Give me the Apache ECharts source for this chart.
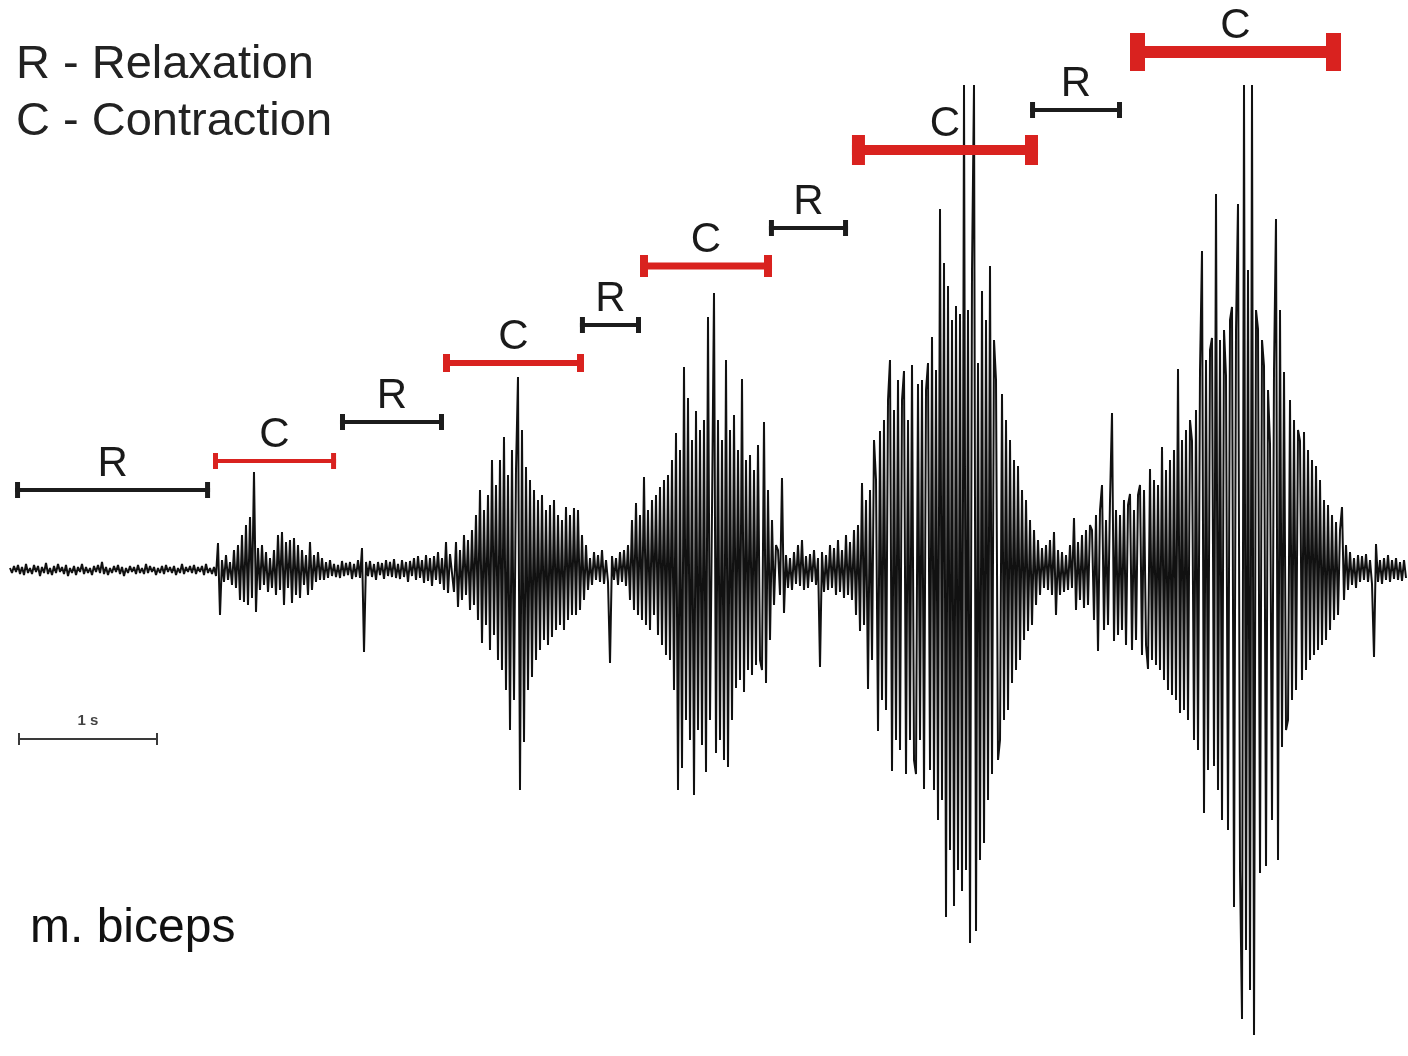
<!DOCTYPE html>
<html>
<head>
<meta charset="utf-8">
<script src="https://cdn.jsdelivr.net/npm/echarts@6.0.0/dist/echarts.min.js"></script>
<style>
html,body{margin:0;padding:0;background:#ffffff;}
#chart{width:1408px;height:1056px;}
</style>
</head>
<body>
<div id="chart"></div>
<script>
// ---------- DATA ----------
// EMG recording, m. biceps. Sample period (s) and start time (s) of each recorded segment
const samplePeriod = 1 / 70;
const segmentStart = [0, 1.4571, 2.3143, 3.1571, 4.1429, 4.4143, 5.4857, 6.0286, 7.3714, 7.7286, 9.5143];

// amplitude samples (a.u.)
const restA = [2,-3,4,-2,5,-4,3,-5,6,-3, 2,-4,5,-2,4,-6,3,-3,7,-4, 2,-5,4,-3,6,-2,3,-4,5,-6, 2,-3,4,-5,3,-2,6,-4,3,-3,
  2,-5,4,-2,5,-3,8,-4,3,-5, 2,-3,4,-2,5,-4,3,-6,2,-3, 4,-2,3,-4,5,-3,2,-4,6,-3, 4,-2,3,-5,2,-3,4,-4,5,-2,
  3,-3,4,-5,2,-3,6,-4,3,-2, 4,-3,5,-4,3,-2,4,-5,6,-3, 2,-4];
const burst1 = [3,-6,27,-45,10,-12,15,-10,8,-15, 20,-18,25,-30,35,-32,45,-35,53,-28, 98,-42,22,-20,25,-15,18,-22,12,-18,
  20,-25,35,-20,38,-35,28,-18,30,-33, 32,-25,25,-28,20,-15,15,-25,28,-20, 15,-12,18,-10,12,-10,8,-8,10,-6];
const restB = [6,-7,5,-8,9,-6,7,-5,8,-9, 6,-7,10,-8,22,-82,8,-6,9,-7, 6,-10,8,-5,7,-9,10,-6,8,-7, 11,-8,6,-9,10,-7,8,-12,9,-6,
  12,-10,14,-8,10,-13,15,-11,12,-16, 14,-10,18,-14,12,-20,28,-23,16];
const burst2 = [15,-22,28,-37,20,-30,35,-25,30,-40, 40,-35,55,-50,80,-73,60,-55,75,-80, 110,-65,85,-90,110,-100,133,-120,95,-160,
  120,-130,100,193,-220,140,-172,103,-120,90, -107,80,-90,70,-80,75,-70,60,-75,65, -67,70,-60,55,-55,50,-60,63,-50,55,
  -45,62,-45,60,-40,35,-30,25,-20];
const restC = [12,-15,18,-10,15,-12,20,-14,10,-12,-93,14,-10,12,-15,18,-12,20,-16];
const burst3 = [25,-30,50,-40,67,-45,55,-50,93,-55, 60,-60,70,-45,75,-65,83,-75,90,-85, 95,-90,110,-120,137,-220,120,-198,203,-150,
  172,-170,130,-225,159,-160,140,-175,150,-202, 253,-150,60,277,-183,150,-170,130,-190,210, -197,140,-150,155,-118,120,-110,191,-122,110,
  -100,115,-105,100,-95,125,-90,-100,148,-113, 80,-70,50,-35,25];
const restD = [20,-25,92,-43,15,-18,12,-20,18,-14, 25,-16,30,-20,14,-18,16,-12,20,-15, 12,-97,18,-22,15,-20,25,-18,22,-25,
  30,-22,20,-28,35,-25,28,-30];
const burst4 = [40,-45,45,-61,87,-55,70,-119,80,-90, 130,90,-161,139,-130,150,-140,170,210,-201, 160,-170,190,-180,170,199,-204,150,-170,205,
  -190,-204,186,-170,190,-219,180,207,-200,233, -220,200,-250,361,-230,307,-347,284,-280,250, -336,264,-300,256,-321,485,-300,260,-373,300,
  485,-361,207,-290,279,-273,250,-230,304,-204, 230,190,-190,-170,176,-150,150,-140,130,-113, 110,-100,104,-90,80,-70,70,-61,50,-55,
  40,-35,30,-25];
const restE = [22,-18,25,-20,30,-25,38,-45,20,-25, 18,-22,15,-20,25,-18,52,-40,28,-30, 35,-38,40,-35,45];
const burst5 = [40,-50,55,-81,60,85,-60,50,-55,70, 157,-71,60,-65,55,-60,70,-75,65,76, -80,60,-70,75,85,-85,80,-75,-99,101,
  -90,90,-95,85,-100,123,-110,100,-120,110, -125,120,-130,201,-143,130,-140,140,-150,150, 129,-170,160,-180,200,319,-243,210,-200,220,
  232,-196,376,-220,230,-250,240,194,-260,250, 263,-337,240,366,-300,-449,485,-380,300,-420, 485,-465,260,241,-303,230,204,-296,180,126,
  -250,200,351,-290,260,-177,198,-160,-150,170, -130,150,-120,140,129,-110,138,-100,120,-90, 110,-85,104,-80,90,-75,70,-70,65,-60,
  55,-50,48,-45,40];
const restF = [63,-30,25,-20,18,-15,12,-18,15,-12, 14,-10,16,-12,10,-14,-87,26,-12,10, -14,12,-10,15,-12,10,-9,12,-10,8, -11,10,-8];

// R / C phase markers: start (s), end (s), level (a.u.)
const phaseLabels = ['R','C','R','C','R','C','R','C','R','C'];
const phaseStart  = [0.036, 1.450, 2.357, 3.093, 4.071, 4.500, 5.421, 6.014, 7.286, 8.000];
const phaseEnd    = [1.429, 2.329, 3.100, 4.100, 4.507, 5.443, 5.986, 7.343, 7.943, 9.507];
const phaseLevel  = [80, 109, 148, 207, 245, 304, 342, 420, 460, 518];

// 1 s scale bar
const scaleBarStart = [0.057];
const scaleBarEnd = [1.057];
const scaleBarLevel = [-169];
const scaleBarLabel = ['1 s'];

// ---------- BUILD ----------
const segments = [restA, burst1, restB, burst2, restC, burst3, restD, burst4, restE, burst5, restF];
const signal = [];
segments.forEach((seg, s) => {
  seg.forEach((v, j) => signal.push([segmentStart[s] + j * samplePeriod, v]));
});
const phaseData = phaseLabels.map((l, i) => [phaseStart[i], phaseEnd[i], phaseLevel[i], i]);
const scaleData = scaleBarStart.map((s, i) => [s, scaleBarEnd[i], scaleBarLevel[i], i]);

// styles
const RED = '#d9221f';
const BLACK = '#1c1c1c';
const phaseLineW = [4, 4, 4, 6, 4, 7, 4, 10, 4, 12];
const phaseCapW  = [5, 5, 5, 7, 5, 8, 5, 13, 5, 15];
const phaseCapH  = [16, 16, 16, 18, 16, 22, 16, 30, 16, 38];
const FONT = '"Liberation Sans", Arial, sans-serif';

function renderPhase(params, api) {
  const i = api.value(3);
  const a = api.coord([api.value(0), api.value(2)]);
  const b = api.coord([api.value(1), api.value(2)]);
  const col = phaseLabels[i] === 'C' ? RED : BLACK;
  const lw = phaseLineW[i], cw = phaseCapW[i], ch = phaseCapH[i];
  return {
    type: 'group',
    children: [
      { type: 'rect', shape: { x: a[0], y: a[1] - lw / 2, width: b[0] - a[0], height: lw }, style: { fill: col } },
      { type: 'rect', shape: { x: a[0], y: a[1] - ch / 2, width: cw, height: ch }, style: { fill: col } },
      { type: 'rect', shape: { x: b[0] - cw, y: b[1] - ch / 2, width: cw, height: ch }, style: { fill: col } },
      { type: 'text', x: (a[0] + b[0]) / 2, y: a[1] - 26,
        style: { text: phaseLabels[i], font: '42px ' + FONT, fill: '#1a1a1a', align: 'center', verticalAlign: 'middle' } }
    ]
  };
}

function renderScale(params, api) {
  const i = api.value(3);
  const a = api.coord([api.value(0), api.value(2)]);
  const b = api.coord([api.value(1), api.value(2)]);
  const col = '#3a3a3a';
  return {
    type: 'group',
    children: [
      { type: 'rect', shape: { x: a[0], y: a[1] - 1, width: b[0] - a[0], height: 2 }, style: { fill: col } },
      { type: 'rect', shape: { x: a[0], y: a[1] - 6, width: 2, height: 12 }, style: { fill: col } },
      { type: 'rect', shape: { x: b[0] - 2, y: b[1] - 6, width: 2, height: 12 }, style: { fill: col } },
      { type: 'text', x: (a[0] + b[0]) / 2, y: a[1] - 18,
        style: { text: scaleBarLabel[i], font: 'bold 15px ' + FONT, fill: '#444', align: 'center', verticalAlign: 'middle' } }
    ]
  };
}

const chart = echarts.init(document.getElementById('chart'), null, { renderer: 'canvas' });
chart.setOption({
  animation: false,
  backgroundColor: '#ffffff',
  grid: { left: 10, right: 0, top: 0, bottom: 0 },
  xAxis: { type: 'value', min: 0, max: 9.9857, show: false },
  yAxis: { type: 'value', min: -486, max: 570, show: false },
  graphic: [
    { type: 'text', x: 16, y: 65, style: { text: 'R - Relaxation', font: '47px ' + FONT, fill: '#222', verticalAlign: 'middle' } },
    { type: 'text', x: 16, y: 122, style: { text: 'C - Contraction', font: '47px ' + FONT, fill: '#222', verticalAlign: 'middle' } },
    { type: 'text', x: 30, y: 929, style: { text: 'm. biceps', font: '48px ' + FONT, fill: '#111', verticalAlign: 'middle' } }
  ],
  series: [
    {
      type: 'line', data: signal, showSymbol: false, silent: true,
      lineStyle: { color: '#111111', width: 2 }, z: 2
    },
    { type: 'custom', data: phaseData, renderItem: renderPhase, silent: true, z: 3 },
    { type: 'custom', data: scaleData, renderItem: renderScale, silent: true, z: 3 }
  ]
});
</script>
</body>
</html>
